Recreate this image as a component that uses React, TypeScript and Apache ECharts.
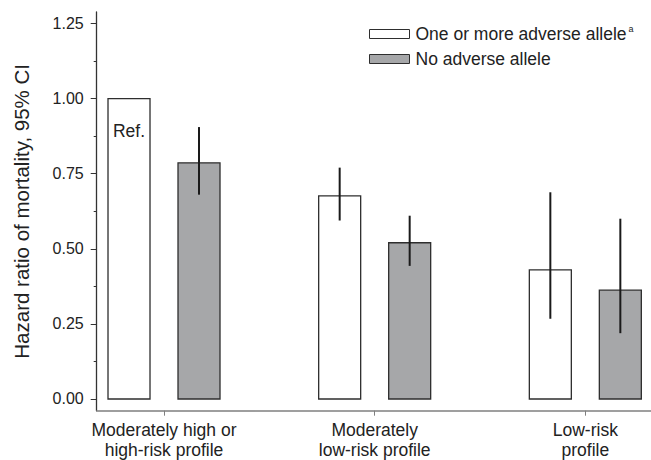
import React, { useEffect, useRef } from 'react';
import * as echarts from 'echarts';

const categories = ['Moderately high or\nhigh-risk profile', 'Moderately\nlow-risk profile', 'Low-risk\nprofile'];
const seriesNames = ['One or more adverse allele', 'No adverse allele'];
const adverseHR = [1.0, 0.676, 0.43];
const adverseLow: (number | null)[] = [null, 0.594, 0.267];
const adverseHigh: (number | null)[] = [null, 0.77, 0.688];
const noAdverseHR = [0.786, 0.52, 0.362];
const noAdverseLow = [0.68, 0.443, 0.219];
const noAdverseHigh = [0.905, 0.61, 0.6];
const adverseNotes = ['Ref.', '', ''];
const yTicks = [0, 0.25, 0.5, 0.75, 1.0, 1.25];
const yMinorTicks = [0.125, 0.375, 0.625, 0.875, 1.125];
const xTicks = [0, 1, 2];

const FONT = '"Liberation Sans", Arial, Helvetica, sans-serif';
const BAR_W = 42;
const BAR_OFFSET = 35;
const WHITE = '#ffffff';
const GREY = '#a6a7a9';
const EDGE = '#2e2e2e';

function barSeries(name: string, values: number[], fill: string, side: number, notes?: string[]) {
  return {
    type: 'custom',
    name,
    xAxisIndex: 0,
    yAxisIndex: 0,
    itemStyle: { color: fill, borderColor: EDGE, borderWidth: 1.3 },
    data: values.map((v, i) => [i, v]),
    encode: { x: 0, y: 1 },
    renderItem: (params: any, api: any) => {
      const i = api.value(0);
      const v = api.value(1);
      const top = api.coord([i, v]);
      const base = api.coord([i, 0]);
      const cx = top[0] + side * BAR_OFFSET;
      const children: any[] = [
        {
          type: 'rect',
          shape: { x: cx - BAR_W / 2, y: top[1], width: BAR_W, height: base[1] - top[1] },
          style: { fill, stroke: EDGE, lineWidth: 1.3 },
        },
      ];
      const note = notes ? notes[params.dataIndex] : '';
      if (note) {
        children.push({
          type: 'text',
          x: cx,
          y: top[1] + 32,
          style: {
            text: note,
            fill: '#222',
            fontSize: 17.5,
            fontFamily: FONT,
            align: 'center',
            verticalAlign: 'middle',
          },
        });
      }
      return { type: 'group', children };
    },
  };
}

function errSeries(name: string, low: (number | null)[], high: (number | null)[], side: number) {
  const data: number[][] = [];
  low.forEach((l, i) => {
    const h = high[i];
    if (l != null && h != null) data.push([i, l, h]);
  });
  return {
    type: 'custom',
    name,
    xAxisIndex: 0,
    yAxisIndex: 0,
    data,
    encode: { x: 0, y: [1, 2] },
    z: 5,
    renderItem: (params: any, api: any) => {
      const i = api.value(0);
      const p1 = api.coord([i, api.value(1)]);
      const p2 = api.coord([i, api.value(2)]);
      const cx = p1[0] + side * BAR_OFFSET;
      return {
        type: 'line',
        shape: { x1: cx, y1: p1[1], x2: cx, y2: p2[1] },
        style: { stroke: '#1a1a1a', lineWidth: 2 },
      };
    },
  };
}

export default function App() {
  const ref = useRef<HTMLDivElement>(null);
  useEffect(() => {
    if (!ref.current) return;
    const chart = echarts.init(ref.current, undefined, { renderer: 'svg' });
    const option: any = {
      animation: false,
      backgroundColor: '#ffffff',
      textStyle: { fontFamily: FONT },
      grid: { left: 96.7, right: 0, top: 12, bottom: 49.3, containLabel: false },
      legend: {
        show: true,
        orient: 'vertical',
        left: 364,
        top: 19,
        itemWidth: 40,
        itemHeight: 9,
        itemGap: 5,
        selectedMode: false,
        data: [
          { name: seriesNames[0], icon: 'rect', itemStyle: { color: WHITE, borderColor: EDGE, borderWidth: 1 } },
          { name: seriesNames[1], icon: 'rect', itemStyle: { color: GREY, borderColor: EDGE, borderWidth: 1 } },
        ],
        formatter: (name: string) => (name === seriesNames[0] ? `{n|${name}}{s|a}` : `{n|${name}}`),
        textStyle: {
          color: '#222',
          fontFamily: FONT,
          fontSize: 17.5,
          lineHeight: 20,
          padding: [0, 0, 0, 1],
          rich: {
            n: { fontSize: 17.5, fontFamily: FONT, color: '#222', lineHeight: 20 },
            s: { fontSize: 9, fontFamily: FONT, color: '#222', verticalAlign: 'top', lineHeight: 12, padding: [0, 0, 0, 2] },
          },
        },
      },
      xAxis: {
        type: 'value',
        min: -0.3195,
        max: 2.3117,
        splitLine: { show: false },
        axisLine: { show: true, onZero: false, lineStyle: { color: '#7f7f7f', width: 1.6 } },
        axisTick: { show: true, customValues: xTicks, length: 5, lineStyle: { color: '#7f7f7f', width: 1 } },
        axisLabel: {
          customValues: xTicks,
          formatter: (v: number) => categories[Math.round(v)] ?? '',
          color: '#222',
          fontFamily: FONT,
          fontSize: 17.5,
          lineHeight: 20,
          margin: 9,
        },
      },
      yAxis: [
        {
          type: 'value',
          min: -0.039,
          max: 1.288,
          name: 'Hazard ratio of mortality, 95% CI',
          nameLocation: 'middle',
          nameRotate: 90,
          nameGap: 65,
          nameTextStyle: { color: '#222', fontFamily: FONT, fontSize: 20.5 },
          splitLine: { show: false },
          axisLine: { show: true, onZero: false, lineStyle: { color: '#333', width: 1.3 } },
          axisTick: { show: true, customValues: yTicks, length: 6, lineStyle: { color: '#333', width: 1 } },
          axisLabel: {
            customValues: yTicks,
            formatter: (v: number) => v.toFixed(2),
            color: '#222',
            fontFamily: FONT,
            fontSize: 16,
            margin: 13,
          },
        },
        {
          type: 'value',
          min: -0.039,
          max: 1.288,
          position: 'left',
          splitLine: { show: false },
          axisLine: { show: false, onZero: false },
          axisLabel: { show: false },
          axisTick: { show: true, customValues: yMinorTicks, length: 3, lineStyle: { color: '#333', width: 1 } },
        },
      ],
      series: [
        barSeries(seriesNames[0], adverseHR, WHITE, -1, adverseNotes),
        barSeries(seriesNames[1], noAdverseHR, GREY, 1),
        errSeries('ci-adverse', adverseLow, adverseHigh, -1),
        errSeries('ci-noadverse', noAdverseLow, noAdverseHigh, 1),
      ],
    };
    chart.setOption(option);
    return () => chart.dispose();
  }, []);
  return <div ref={ref} style={{ position: 'fixed', left: 0, top: 0, width: 651, height: 460 }} />;
}
